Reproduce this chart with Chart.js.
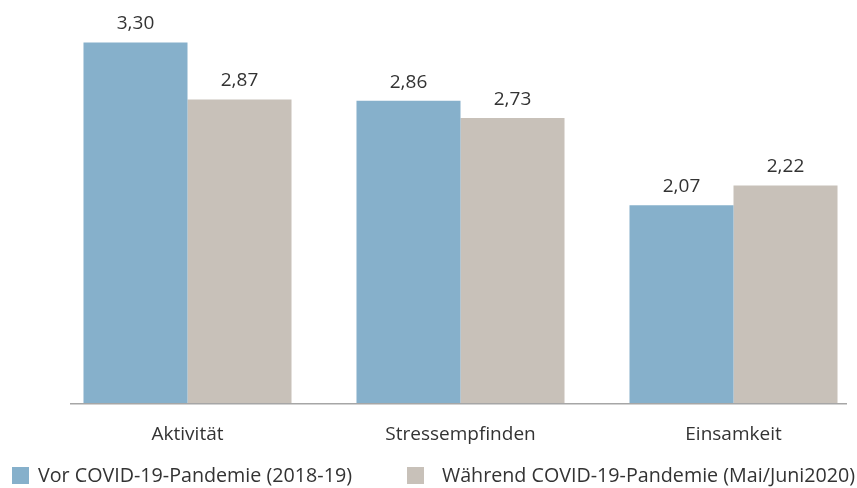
<!DOCTYPE html>
<html>
<head>
<meta charset="utf-8">
<script src="https://cdn.jsdelivr.net/npm/chart.js@4"></script>
<style>
  html, body { margin: 0; padding: 0; background: #fff; overflow: hidden; }
  #wrap { width: 870px; height: 488px; }
</style>
</head>
<body>
<div id="wrap"><canvas id="myChart"></canvas></div>
<script>
var categories = ["Aktivität", "Stressempfinden", "Einsamkeit"];
var seriesNames = ["Vor COVID-19-Pandemie (2018-19)", "Während COVID-19-Pandemie (Mai/Juni2020)"];
var vorValues = [3.30, 2.86, 2.07];
var waehrendValues = [2.87, 2.73, 2.22];
var barColors = ["#86b0cb", "#c8c1b9"];

var textColor = "#333333";
var fontFamily = "'Open Sans', sans-serif";

// value labels above each bar, german decimal comma
var valueLabels = {
  id: "valueLabels",
  afterDatasetsDraw: function(chart) {
    var ctx = chart.ctx;
    ctx.save();
    ctx.font = "19px " + fontFamily;
    ctx.fillStyle = textColor;
    ctx.textAlign = "center";
    ctx.textBaseline = "alphabetic";
    chart.data.datasets.forEach(function(ds, i) {
      chart.getDatasetMeta(i).data.forEach(function(bar, j) {
        var txt = ds.data[j].toFixed(2).replace(".", ",");
        ctx.fillText(txt, bar.x, bar.y - 13);
      });
    });
    ctx.restore();
  }
};

// grey baseline under the bars
var baseLine = {
  id: "baseLine",
  afterDatasetsDraw: function(chart) {
    var ctx = chart.ctx;
    var y = chart.chartArea.bottom + 0.5;
    ctx.save();
    ctx.strokeStyle = "#a6a6a6";
    ctx.lineWidth = 1.5;
    ctx.beginPath();
    ctx.moveTo(70, y);
    ctx.lineTo(847, y);
    ctx.stroke();
    ctx.restore();
  }
};

// legend drawn by hand: the two entries sit at fixed spots like in the print
var legendBoxes = {
  id: "legendBoxes",
  afterDraw: function(chart) {
    var ctx = chart.ctx;
    var boxX = [12, 407];
    var textX = [38, 442];
    ctx.save();
    ctx.font = "19.7px " + fontFamily;
    ctx.textBaseline = "middle";
    ctx.textAlign = "left";
    chart.data.datasets.forEach(function(ds, i) {
      ctx.fillStyle = ds.backgroundColor;
      ctx.fillRect(boxX[i], 467, 17, 17);
      ctx.fillStyle = textColor;
      ctx.fillText(ds.label, textX[i], 476);
    });
    ctx.restore();
  }
};

new Chart("myChart", {
  type: "bar",
  data: {
    labels: categories,
    datasets: [{
      label: seriesNames[0],
      data: vorValues,
      backgroundColor: barColors[0],
      borderWidth: 0
    }, {
      label: seriesNames[1],
      data: waehrendValues,
      backgroundColor: barColors[1],
      borderWidth: 0
    }]
  },
  options: {
    responsive: true,
    maintainAspectRatio: false,
    animation: false,
    layout: {padding: {left: 51, right: 0, top: 16, bottom: 22}},
    categoryPercentage: 0.762,
    barPercentage: 1.0,
    plugins: {
      legend: {display: false},
      tooltip: {enabled: false}
    },
    scales: {
      x: {
        grid: {display: false, drawTicks: false},
        border: {display: false},
        ticks: {color: textColor, font: {family: fontFamily, size: 19}, padding: 20}
      },
      y: {
        display: false,
        min: 0.575,
        max: 3.5
      }
    }
  },
  plugins: [valueLabels, baseLine, legendBoxes]
});
</script>
</body>
</html>
